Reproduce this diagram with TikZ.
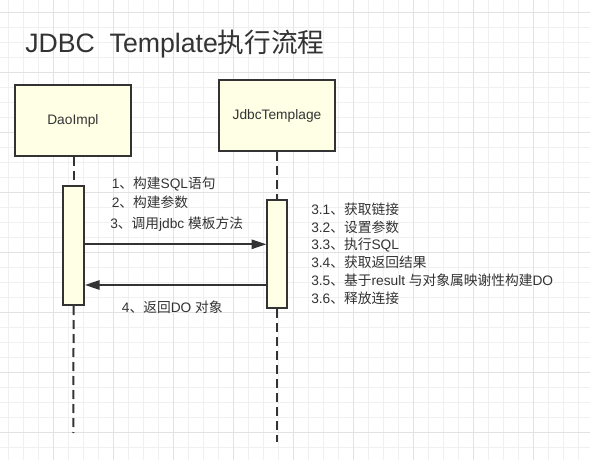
\documentclass[tikz,border=0pt]{standalone}
\usepackage{fontspec}
\setmainfont{Liberation Sans}
\newfontfamily\cjk{Noto Sans CJK SC}
\newcommand{\zh}[1]{{\cjk #1}}
\usetikzlibrary{arrows.meta}

\definecolor{inkgray}{RGB}{51,51,51}
\definecolor{boxfill}{RGB}{255,255,230}
\definecolor{gridminor}{RGB}{240,240,240}
\definecolor{gridmajor}{RGB}{226,226,226}

\tikzset{
  minorline/.style={draw=gridminor, line width=0.75pt},
  majorline/.style={draw=gridmajor, line width=0.75pt},
  objbox/.style={draw=inkgray, fill=boxfill, line width=1.5pt, inner sep=0pt,
    font=\fontsize{10.3}{12}\selectfont, text=inkgray},
  actbox/.style={draw=inkgray, fill=boxfill, line width=1.5pt, inner sep=0pt},
  lifeline/.style={draw=inkgray, line width=1.5pt, dash pattern=on 6.75pt off 3.75pt},
  msgarrow/.style={draw=inkgray, line width=1.3pt, -{Triangle[length=11pt,width=7pt]}},
  msgtext/.style={font=\fontsize{10.3}{12}\selectfont, text=inkgray, inner sep=0pt, anchor=west},
}

\begin{document}
\begin{tikzpicture}[x=0.75pt,y=0.75pt,yscale=-1]
\useasboundingbox (0,0) rectangle (590,460);

%Shape: Grid
\fill[white] (0,0) rectangle (590,460);
\foreach \gx in {8.3,23.3,...,580}
  \draw[minorline] (\gx,0) -- (\gx,460);
\foreach \gy in {12.3,27.3,...,450}
  \draw[minorline] (0,\gy) -- (590,\gy);
\foreach \gx in {53.3,113.3,...,540}
  \draw[majorline] (\gx,0) -- (\gx,460);
\foreach \gy in {12.3,72.3,...,440}
  \draw[majorline] (0,\gy) -- (590,\gy);

% Text Node
\node[anchor=west, inner sep=0pt, text=inkgray, font=\fontsize{20}{24}\selectfont] (title) at (25,44) {JDBC\ \ Template\zh{执行流程}};

%Shape: Rectangle
\node[objbox, minimum width=86.8pt, minimum height=53.25pt] (dao) at (72.9,120.5) {DaoImpl};
%Shape: Rectangle
\node[objbox, minimum width=87pt, minimum height=53.25pt] (jdbc) at (277,115.5) {};
\node[font=\fontsize{10.3}{12}\selectfont, text=inkgray, inner sep=0pt] (jdbclabel) at (277,116) {JdbcTemplage};

%Shape: Rectangle
\node[actbox, minimum width=15.5pt, minimum height=89.25pt] (daoact) at (73.6,245.5) {};
%Shape: Rectangle
\node[actbox, minimum width=15pt, minimum height=81pt] (jdbcact) at (277.3,254.2) {};

%Straight Lines
\coordinate (daoend) at (73.3,433);
\coordinate (jdbcend) at (277.3,442);
\draw[lifeline] (dao.south -| daoact) -- (daoact.north);
\draw[lifeline] (daoact.south) -- (daoend);
\draw[lifeline] (jdbc.south -| jdbcact) -- (jdbcact.north);
\draw[lifeline] (jdbcact.south) -- (jdbcend);

%Straight Lines
\coordinate (callrow) at (0,244.3);
\coordinate (backrow) at (0,285);
\draw[msgarrow] (daoact.east |- callrow) -- (jdbcact.west |- callrow);
\draw[msgarrow] (jdbcact.west |- backrow) -- (daoact.east |- backrow);

% Text Node
\node[msgtext] (step1) at (111.5,184.3) {1\zh{、构建}SQL\zh{语句}};
% Text Node
\node[msgtext] (step2) at (111.5,202.7) {2\zh{、构建参数}};
% Text Node
\node[msgtext] (step3) at (110,224.3) {3\zh{、调用}jdbc \zh{模板方法}};
% Text Node
\node[msgtext] (step4) at (121.7,307.3) {4\zh{、返回}DO \zh{对象}};

% Text Node
\node[msgtext] (sub1) at (311,209.3) {3.1\zh{、获取链接}};
% Text Node
\node[msgtext] (sub2) at (311,227.5) {3.2\zh{、设置参数}};
% Text Node
\node[msgtext] (sub3) at (311,245.3) {3.3\zh{、执行}SQL};
% Text Node
\node[msgtext] (sub4) at (311,262.7) {3.4\zh{、获取返回结果}};
% Text Node
\node[msgtext] (sub5) at (311,280.7) {3.5\zh{、基于}result \zh{与对象属映谢性构建}DO};
% Text Node
\node[msgtext] (sub6) at (311,298.3) {3.6\zh{、释放连接}};

\end{tikzpicture}
\end{document}
